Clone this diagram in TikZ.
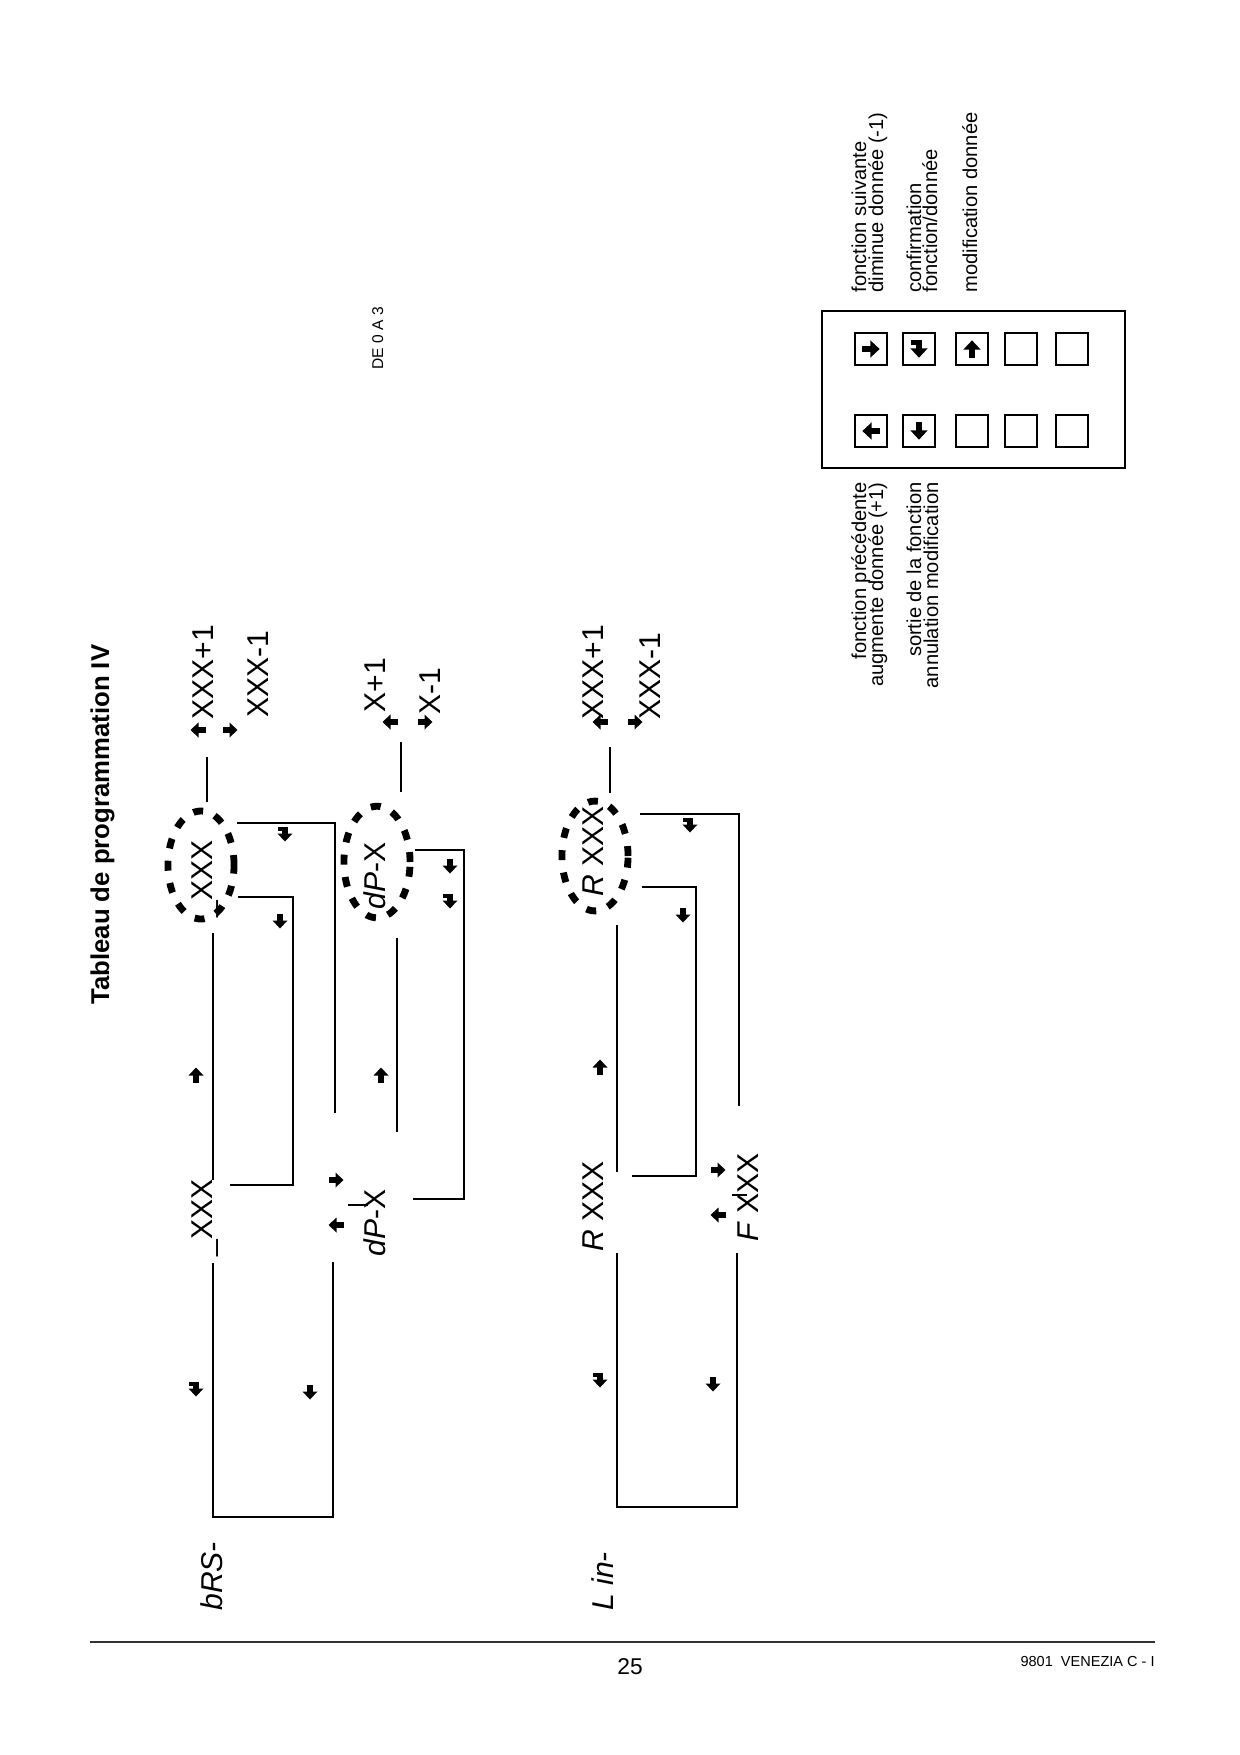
\documentclass[tikz,border=0pt]{standalone}
\usepackage{fontspec}
\setmainfont{Liberation Sans}
\usetikzlibrary{shapes.geometric}
\tikzset{
  pics/arR/.style={code={\fill (-7.5,-3) rectangle (0,3); \fill (-0.5,-7.5) -- (7.5,0) -- (-0.5,7.5) -- cycle;}},
  pics/arL/.style={code={\fill (7.5,-3) rectangle (0,3); \fill (0.5,-7.5) -- (-7.5,0) -- (0.5,7.5) -- cycle;}},
  pics/arU/.style={code={\fill (-3,7.5) rectangle (3,0); \fill (-7.5,0.5) -- (0,-7.5) -- (7.5,0.5) -- cycle;}},
  pics/arD/.style={code={\fill (-3,-7.5) rectangle (3,0); \fill (-7.5,-0.5) -- (0,7.5) -- (7.5,-0.5) -- cycle;}},
  pics/arC/.style={code={\fill (-3,-7.5) rectangle (3,0); \fill (-7.5,-0.5) -- (0,7.5) -- (7.5,-0.5) -- cycle; \fill (-7,-7.5) rectangle (0,-3.5);}},
}
\begin{document}
\begin{tikzpicture}[x=0.16935mm,y=-0.16935mm,
  conn/.style={line width=0.6pt},
  disp/.style={rotate=90,anchor=base west,inner sep=0pt,font=\fontsize{14.5}{14.5}\selectfont},
  labl/.style={rotate=90,anchor=base west,inner sep=0pt,font=\fontsize{9.7}{9.7}\selectfont},
  labr/.style={rotate=90,anchor=base east,inner sep=0pt,font=\fontsize{9.7}{9.7}\selectfont},
  dashell/.style={ellipse,draw,line width=3.3pt,dash pattern=on 4.8pt off 6pt,inner sep=0pt,minimum width=11.2mm},
  keybox/.style={draw,line width=1pt,inner sep=0pt,minimum width=5.4mm,minimum height=5.4mm},
]
\useasboundingbox (0,0) rectangle (1240,1755);
\fill[white] (0,0) rectangle (1240,1755);

% title
\node[rotate=90,anchor=base west,inner sep=0pt,font=\bfseries\fontsize{12.4}{12.4}\selectfont] (title) at (109,1005) {Tableau de programmation IV};
\node[rotate=90,anchor=base west,inner sep=0pt,font=\fontsize{7.5}{7.5}\selectfont] (de) at (383,370) {DE 0 A 3};

% ---------- row 1 ----------
\node[disp] (r1p) at (213,720) {XXX+1};
\node[disp] (r1m) at (268,718) {XXX-1};
\pic at (198,730) {arL};
\pic at (230,730) {arR};
\node[dashell,minimum height=18.3mm] (e1) at (201,865) {};
\node[disp] (e1t) at (212,918) {\_XXX};
\node[disp] (n1) at (212,1257) {\_XXX};
\node[disp,font=\itshape\fontsize{14.5}{14.5}\selectfont] (bas) at (222,1611) {bRS-};

\coordinate (a1) at (207,757); \coordinate (a2) at (207,802);
\draw[conn] (a1) -- (a2);
\coordinate (b1) at (237,823); \coordinate (b2) at (335,823); \coordinate (b3) at (335,1113);
\draw[conn] (b1) -- (b2) -- (b3);
\coordinate (c1) at (238,897); \coordinate (c2) at (293,897); \coordinate (c3) at (293,1185); \coordinate (c4) at (230,1185);
\draw[conn] (c1) -- (c2) -- (c3) -- (c4);
\coordinate (d1) at (213,933); \coordinate (d2) at (213,1180);
\draw[conn] (d1) -- (d2);
\coordinate (f1) at (213,1263); \coordinate (f2) at (213,1517); \coordinate (f3) at (333,1517); \coordinate (f4) at (333,1262);
\draw[conn] (f1) -- (f2) -- (f3) -- (f4);
\pic at (285,834) {arC};
\pic at (280,921) {arD};
\pic at (196,1075) {arU};
\pic at (196,1389) {arC};
\pic at (310,1392) {arD};
\pic at (336,1180) {arR};
\pic at (336,1225) {arL};

% ---------- row 1b (dP) ----------
\node[disp] (r2p) at (385,713) {X+1};
\node[disp] (r2m) at (440,715) {X-1};
\pic at (390,722) {arL};
\pic at (425,722) {arR};
\node[dashell,minimum height=18.9mm] (e2) at (377,862) {};
\node[disp] (e2t) at (385,910) {\textit{dP}-X};
\node[disp] (n2) at (385,1257) {\textit{dP}-X};
\coordinate (g1) at (401,742); \coordinate (g2) at (401,792);
\draw[conn] (g1) -- (g2);
\coordinate (h1) at (415,850); \coordinate (h2) at (464,850); \coordinate (h3) at (464,1199); \coordinate (h4) at (413,1199);
\draw[conn] (h1) -- (h2) -- (h3) -- (h4);
\coordinate (i1) at (397,938); \coordinate (i2) at (397,1132);
\draw[conn] (i1) -- (i2);
\coordinate (s1) at (348,1205); \coordinate (s2) at (368,1205);
\draw[conn] (s1) -- (s2);
\pic at (450,866) {arD};
\pic at (450,901) {arC};
\pic at (381,1075) {arU};

% ---------- row 2 ----------
\node[disp] (r3p) at (603,720) {XXX+1};
\node[disp] (r3m) at (660,720) {XXX-1};
\pic at (600,722) {arL};
\pic at (635,722) {arR};
\node[dashell,minimum height=18.6mm] (e3) at (595,856) {};
\node[disp] (e3t) at (603,897) {\textit{R} XXX};
\node[disp] (n3) at (603,1252) {\textit{R} XXX};
\node[disp] (n4) at (758,1242) {\textit{F} XXX};
\node[disp,font=\itshape\fontsize{14.5}{14.5}\selectfont] (lin) at (613,1611) {L in-};
\coordinate (j1) at (610,747); \coordinate (j2) at (610,793);
\draw[conn] (j1) -- (j2);
\coordinate (k1) at (640,814); \coordinate (k2) at (739,814); \coordinate (k3) at (739,1106);
\draw[conn] (k1) -- (k2) -- (k3);
\coordinate (l1) at (642,887); \coordinate (l2) at (696,887); \coordinate (l3) at (696,1176); \coordinate (l4) at (632,1176);
\draw[conn] (l1) -- (l2) -- (l3) -- (l4);
\coordinate (m1) at (617,925); \coordinate (m2) at (617,1172);
\draw[conn] (m1) -- (m2);
\coordinate (o1) at (617,1253); \coordinate (o2) at (617,1507); \coordinate (o3) at (737,1507); \coordinate (o4) at (737,1253);
\draw[conn] (o1) -- (o2) -- (o3) -- (o4);
\coordinate (t1) at (732,1195); \coordinate (t2) at (747,1195);
\draw[conn] (t1) -- (t2);
\pic at (690,825) {arC};
\pic at (683,915) {arD};
\pic at (600,1067) {arU};
\pic at (718,1170) {arR};
\pic at (718,1215) {arL};
\pic at (600,1380) {arC};
\pic at (713,1384) {arD};

% ---------- keypad ----------
\node[draw,line width=1pt,inner sep=0pt,minimum width=51.3mm,minimum height=26.6mm] (pad) at (973.5,389.5) {};
\node[keybox] (k11) at (871,349) {};
\node[keybox] (k12) at (919,349) {};
\node[keybox] (k13) at (972,349) {};
\node[keybox] (k14) at (1021,349) {};
\node[keybox] (k15) at (1072,349) {};
\node[keybox] (k21) at (871,431) {};
\node[keybox] (k22) at (919,431) {};
\node[keybox] (k23) at (972,431) {};
\node[keybox] (k24) at (1021,431) {};
\node[keybox] (k25) at (1072,431) {};
\pic[scale=1.15] at (k11) {arR};
\pic[scale=1.15] at (k12) {arC};
\pic[scale=1.15] at (k13) {arU};
\pic[scale=1.15] at (k21) {arL};
\pic[scale=1.15] at (k22) {arD};

\node[labl] (u1) at (866,293) {fonction suivante};
\node[labl] (u2) at (883,293) {diminue donnée (-1)};
\node[labl] (u3) at (921,293) {confirmation};
\node[labl] (u4) at (937,293) {fonction/donnée};
\node[labl] (u5) at (977,293) {modification donnée};
\node[labr] (v1) at (866,482) {fonction précédente};
\node[labr] (v2) at (883,482) {augmente donnée (+1)};
\node[labr] (v3) at (921,482) {sortie de la fonction};
\node[labr] (v4) at (938,482) {annulation modification};

% ---------- footer ----------
\coordinate (fl) at (90,1642); \coordinate (fr) at (1155,1642);
\draw[line width=0.8pt,black!80] (fl) -- (fr);
\node[font=\fontsize{11}{11}\selectfont,inner sep=0pt] (pg) at (630,1667) {25};
\node[anchor=east,font=\fontsize{7}{7}\selectfont,inner sep=0pt] (ref) at (1155,1661) {9801\ \ VENEZIA C - I};
\end{tikzpicture}
\end{document}
